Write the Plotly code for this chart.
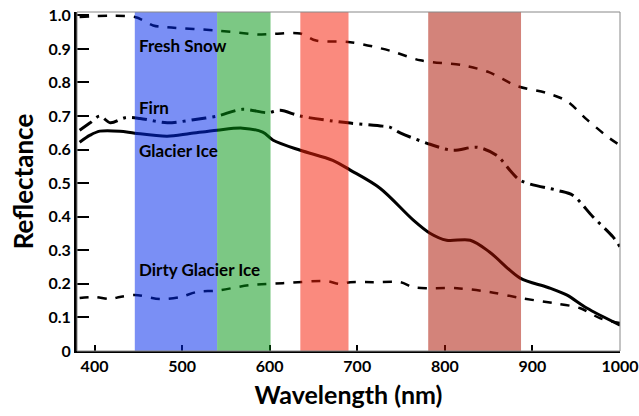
import plotly.graph_objects as go

# ---- data ----
snow_x = [383, 446, 467, 480, 539, 589, 606, 635, 653, 692, 737, 772, 821, 851, 882, 917, 939, 962, 988, 1000]
snow_y = [0.995, 0.995, 0.97, 0.965, 0.955, 0.943, 0.945, 0.946, 0.925, 0.92, 0.895, 0.866, 0.851, 0.83, 0.79, 0.768, 0.745, 0.69, 0.634, 0.613]

firn_x = [383, 395, 406, 418, 435, 452, 483, 515, 540, 569, 597, 612, 635, 672, 692, 729, 737, 749, 783, 809, 837, 859, 886, 928, 946, 969, 992, 1000]
firn_y = [0.658, 0.68, 0.70, 0.68, 0.695, 0.693, 0.68, 0.69, 0.70, 0.72, 0.71, 0.717, 0.70, 0.685, 0.679, 0.67, 0.667, 0.65, 0.616, 0.598, 0.607, 0.583, 0.509, 0.479, 0.464, 0.40, 0.34, 0.31]

ice_x = [383, 395, 406, 429, 446, 483, 509, 540, 569, 592, 604, 635, 672, 692, 726, 764, 783, 802, 829, 851, 886, 917, 939, 962, 1000]
ice_y = [0.622, 0.643, 0.655, 0.655, 0.649, 0.64, 0.648, 0.658, 0.664, 0.652, 0.628, 0.598, 0.568, 0.539, 0.485, 0.39, 0.351, 0.33, 0.33, 0.295, 0.217, 0.19, 0.167, 0.128, 0.077]

dirty_x = [383, 400, 418, 429, 446, 475, 498, 517, 540, 577, 615, 665, 680, 692, 718, 749, 764, 783, 814, 851, 886, 923, 954, 977, 1000]
dirty_y = [0.158, 0.161, 0.155, 0.161, 0.167, 0.155, 0.161, 0.176, 0.18, 0.196, 0.202, 0.208, 0.2, 0.205, 0.205, 0.205, 0.19, 0.187, 0.187, 0.176, 0.158, 0.143, 0.128, 0.098, 0.083]

band_start = [446, 540, 635, 781]
band_end = [540, 601, 690, 887]
band_colors = ["rgb(0,40,235)", "rgb(3,150,19)", "rgb(246,31,8)", "rgb(171,17,0)"]

x_ticks = [400, 500, 600, 700, 800, 900, 1000]
y_ticks = [0, 0.1, 0.2, 0.3, 0.4, 0.5, 0.6, 0.7, 0.8, 0.9, 1.0]
y_ticktext = ["0", "0.1", "0.2", "0.3", "0.4", "0.5", "0.6", "0.7", "0.8", "0.9", "1.0"]

labels = ["Fresh Snow", "Firn", "Glacier Ice", "Dirty Glacier Ice"]
label_x = [449, 449, 449, 449]
label_y = [0.91, 0.726, 0.598, 0.243]

FONT = "Lato"

fig = go.Figure()
fig.add_trace(go.Scatter(x=snow_x, y=snow_y, mode="lines", line=dict(color="black", width=2.5, dash="dash", shape="spline", smoothing=0.9), name=labels[0]))
fig.add_trace(go.Scatter(x=firn_x, y=firn_y, mode="lines", line=dict(color="black", width=3, dash="longdashdot", shape="spline", smoothing=0.9), name=labels[1]))
fig.add_trace(go.Scatter(x=ice_x, y=ice_y, mode="lines", line=dict(color="black", width=3, shape="spline", smoothing=0.9), name=labels[2]))
fig.add_trace(go.Scatter(x=dirty_x, y=dirty_y, mode="lines", line=dict(color="black", width=2.5, dash="dash", shape="spline", smoothing=0.9), name=labels[3]))

for s, e, c in zip(band_start, band_end, band_colors):
    fig.add_shape(type="rect", xref="x", yref="paper", x0=s, x1=e, y0=0, y1=1,
                  fillcolor=c, opacity=0.52, line=dict(width=0), layer="above")

# thin frame
fig.add_shape(type="rect", xref="paper", yref="paper", x0=0, x1=1, y0=0, y1=1,
              line=dict(color="#888888", width=1), layer="above")

for t, lx, ly in zip(labels, label_x, label_y):
    fig.add_annotation(x=lx, y=ly, text="<b>" + t + "</b>", showarrow=False,
                       xanchor="left", yanchor="middle",
                       font=dict(family=FONT, size=17, color="black"))

fig.update_xaxes(range=[380, 1000], tickvals=x_ticks, ticktext=["<b>%d</b>" % v for v in x_ticks],
                 ticks="inside", ticklen=6, tickwidth=2,
                 tickcolor="black", showline=True, linecolor="black", linewidth=2,
                 showgrid=False, zeroline=False, automargin=False,
                 tickfont=dict(family=FONT, size=16, color="black"),
                 title=dict(text="<b>Wavelength (nm)</b>", font=dict(family=FONT, size=25, color="black"), standoff=12))
fig.update_yaxes(range=[0, 1.01], tickvals=y_ticks, ticktext=["<b>%s</b>" % t for t in y_ticktext],
                 ticks="inside", ticklen=12, tickwidth=2,
                 tickcolor="black", showline=True, linecolor="black", linewidth=3,
                 showgrid=False, zeroline=False, automargin=False,
                 tickfont=dict(family=FONT, size=16, color="black"),
                 title=dict(text="<b>Reflectance</b>", font=dict(family=FONT, size=26, color="black"), standoff=8))

fig.update_layout(width=639, height=416, margin=dict(l=77, r=19, t=12, b=65),
                  plot_bgcolor="white", paper_bgcolor="white", showlegend=False,
                  font=dict(family=FONT, color="black"))

fig.write_html("out.html")
